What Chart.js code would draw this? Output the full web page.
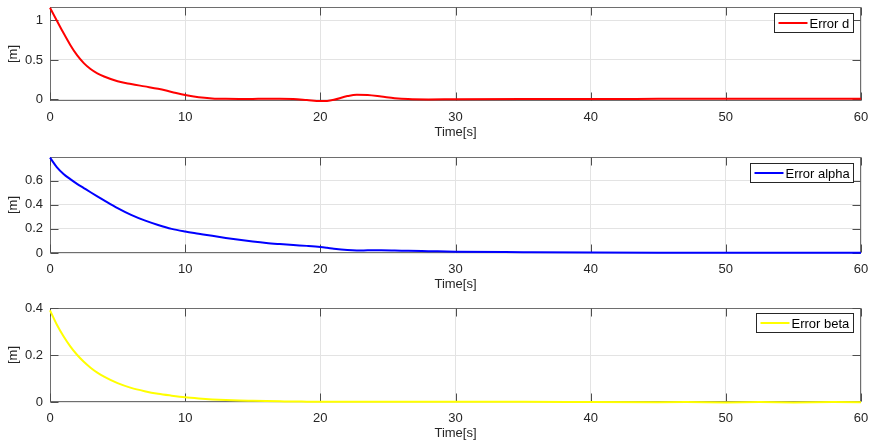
<!DOCTYPE html>
<html>
<head>
<meta charset="utf-8">
<script src="https://cdn.jsdelivr.net/npm/chart.js@4.4.0/dist/chart.umd.min.js"></script>
<style>
  body { margin: 0; background: #fff; overflow: hidden; }
  #wrap { position: relative; width: 871px; height: 445px; }
  canvas { position: absolute; left: 0; }
</style>
</head>
<body>
<div id="wrap">
  <canvas id="c1"></canvas>
  <canvas id="c2"></canvas>
  <canvas id="c3"></canvas>
</div>
<script>
"use strict";

// sample times [s], shared by the three error signals
var time = [0, 0.5, 1, 1.5, 2, 2.5, 3, 3.5, 4, 5, 6, 7, 8, 9, 10, 11, 12, 13, 14, 15,
  16, 17, 18, 19, 20, 20.5, 21, 22, 22.7, 23.5, 24.5, 25.5, 26.5, 28, 30, 35, 40, 45, 50, 55, 60];

var errorD = [1.16, 1.0, 0.84, 0.69, 0.56, 0.46, 0.385, 0.33, 0.29, 0.23, 0.195, 0.165, 0.135, 0.095, 0.055, 0.027, 0.013, 0.007, 0.005, 0.006,
  0.008, 0.008, 0.004, -0.008, -0.021, -0.019, -0.005, 0.042, 0.06, 0.056, 0.037, 0.016, 0.004, 0.0, 0.003, 0.006, 0.006, 0.007, 0.008, 0.008, 0.008];

var errorAlpha = [0.79, 0.712, 0.655, 0.612, 0.573, 0.538, 0.503, 0.469, 0.436, 0.372, 0.316, 0.27, 0.232, 0.2, 0.178, 0.16, 0.142, 0.125, 0.109, 0.095,
  0.083, 0.074, 0.066, 0.059, 0.05, 0.043, 0.035, 0.024, 0.021, 0.022, 0.023, 0.021, 0.018, 0.015, 0.011, 0.007, 0.004, 0.003, 0.003, 0.002, 0.002];

var errorBeta = [0.39, 0.33, 0.28, 0.237, 0.201, 0.171, 0.146, 0.125, 0.108, 0.08, 0.06, 0.046, 0.035, 0.027, 0.02, 0.015, 0.011, 0.008, 0.006, 0.005,
  0.004, 0.003, 0.002, 0.0015, 0.001, 0.001, 0.001, 0.001, 0.001, 0.001, 0.001, 0.001, 0.001, 0.001, 0.001, 0.001, 0.0, -0.001, -0.002, -0.002, -0.001];

var xTicks = [0, 10, 20, 30, 40, 50, 60];
var yTicksD = [0, 0.5, 1];
var yTicksAlpha = [0, 0.2, 0.4, 0.6];
var yTicksBeta = [0, 0.2, 0.4];

var TEXT = "#262626";
var FONT = "'Liberation Sans', Arial, sans-serif";

// draws the MATLAB style box, inward ticks and boxed legend
var matlabAxes = {
  id: "matlabAxes",
  beforeDatasetsDraw: function(chart) {
    var a = chart.chartArea;
    var ctx = chart.ctx;
    var xs = chart.scales.x;
    var ys = chart.scales.y;
    var l = Math.round(a.left) + 0.5, r = Math.round(a.right) - 0.5;
    var t = Math.round(a.top) + 0.5, b = Math.round(a.bottom) - 0.5;
    ctx.save();
    ctx.strokeStyle = "#6e6e6e";
    ctx.lineWidth = 1;
    ctx.strokeRect(l, t, r - l, b - t);
    ctx.beginPath();
    xs.ticks.forEach(function(tk) {
      var px = Math.round(xs.getPixelForValue(tk.value)) + 0.5;
      ctx.moveTo(px, b); ctx.lineTo(px, b - 8);
      ctx.moveTo(px, t); ctx.lineTo(px, t + 8);
    });
    ys.ticks.forEach(function(tk) {
      var py = Math.round(ys.getPixelForValue(tk.value)) + 0.5;
      ctx.moveTo(l, py); ctx.lineTo(l + 8, py);
      ctx.moveTo(r, py); ctx.lineTo(r - 8, py);
    });
    ctx.strokeStyle = "#4d4d4d";
    ctx.stroke();
    ctx.restore();
  },
  afterDatasetsDraw: function(chart, args, opts) {
    var a = chart.chartArea;
    var ctx = chart.ctx;
    var ds = chart.data.datasets[0];
    ctx.save();
    ctx.font = "13px " + FONT;
    var tw = ctx.measureText(ds.label).width;
    var w = Math.round(4 + 29 + 2 + tw + 4);
    var h = 19;
    var x0 = Math.round(a.right) - 8 - w + 0.5;
    var y0 = Math.round(a.top) + opts.legendTop + 0.5;
    ctx.fillStyle = "#fff";
    ctx.fillRect(x0, y0, w, h);
    ctx.strokeStyle = "#262626";
    ctx.lineWidth = 1;
    ctx.strokeRect(x0, y0, w, h);
    ctx.beginPath();
    ctx.moveTo(x0 + 4, y0 + h / 2);
    ctx.lineTo(x0 + 33, y0 + h / 2);
    ctx.strokeStyle = ds.borderColor;
    ctx.lineWidth = 2;
    ctx.stroke();
    ctx.fillStyle = "#000";
    ctx.textBaseline = "middle";
    ctx.fillText(ds.label, x0 + 35, y0 + h / 2 + 1);
    ctx.restore();
  }
};

var toPoints = function(values) {
  return time.map(function(t, i) {
    return { x: t, y: values[i] };
  });
};

var makeChart = function(id, cfg) {
  var canvas = document.getElementById(id);
  var xh = 45;
  var height = cfg.areaBottom - cfg.canvasTop + xh;
  canvas.width = 871;
  canvas.height = height;
  canvas.style.top = cfg.canvasTop + "px";
  new Chart(canvas, {
    type: "line",
    data: {
      datasets: [
        {
          label: cfg.label,
          data: toPoints(cfg.values),
          borderColor: cfg.color,
          borderWidth: 2,
          pointRadius: 0,
          fill: false,
          cubicInterpolationMode: "monotone",
          clip: 3
        }
      ]
    },
    options: {
      responsive: false,
      animation: false,
      devicePixelRatio: 1,
      layout: {
        padding: { top: cfg.areaTop - cfg.canvasTop, right: 10, bottom: 0, left: 0 }
      },
      plugins: {
        legend: { display: false },
        tooltip: { enabled: false },
        matlabAxes: { legendTop: cfg.legendTop }
      },
      scales: {
        x: {
          type: "linear",
          min: 0,
          max: 60,
          afterBuildTicks: function(s) {
            s.ticks = xTicks.map(function(v) { return { value: v }; });
          },
          afterFit: function(s) {
            s.height = xh;
            s.paddingLeft = 0;
            s.paddingRight = 0;
          },
          grid: { color: "#e3e3e3", drawTicks: false },
          border: { display: false },
          ticks: {
            padding: 9,
            color: TEXT,
            font: { family: FONT, size: 13 },
            maxRotation: 0,
            callback: function(v) { return String(v); }
          },
          title: {
            display: true,
            text: "Time[s]",
            color: TEXT,
            font: { family: FONT, size: 13 },
            padding: { top: 0, bottom: 6 }
          }
        },
        y: {
          type: "linear",
          min: cfg.yMin,
          max: cfg.yMax,
          afterBuildTicks: function(s) {
            s.ticks = cfg.yTicks.map(function(v) { return { value: v }; });
          },
          afterFit: function(s) {
            s.width = 50;
            s.paddingTop = 0;
            s.paddingBottom = 0;
          },
          grid: { color: "#e3e3e3", drawTicks: false },
          border: { display: false },
          ticks: {
            padding: 7,
            color: TEXT,
            font: { family: FONT, size: 13 },
            callback: function(v) { return String(v); }
          },
          title: {
            display: true,
            text: "[m]",
            color: TEXT,
            font: { family: FONT, size: 13 },
            padding: { top: 6, bottom: 0 }
          }
        }
      }
    },
    plugins: [matlabAxes]
  });
};

makeChart("c1", {
  canvasTop: 0, areaTop: 7, areaBottom: 101, legendTop: 6,
  label: "Error d", color: "#ff0000", values: errorD,
  yMin: -0.02, yMax: 1.17, yTicks: yTicksD
});
makeChart("c2", {
  canvasTop: 145, areaTop: 157, areaBottom: 253, legendTop: 6,
  label: "Error alpha", color: "#0000ff", values: errorAlpha,
  yMin: 0, yMax: 0.795, yTicks: yTicksAlpha
});
makeChart("c3", {
  canvasTop: 298, areaTop: 308, areaBottom: 402, legendTop: 5,
  label: "Error beta", color: "#ffff00", values: errorBeta,
  yMin: 0, yMax: 0.4, yTicks: yTicksBeta
});
</script>
</body>
</html>
